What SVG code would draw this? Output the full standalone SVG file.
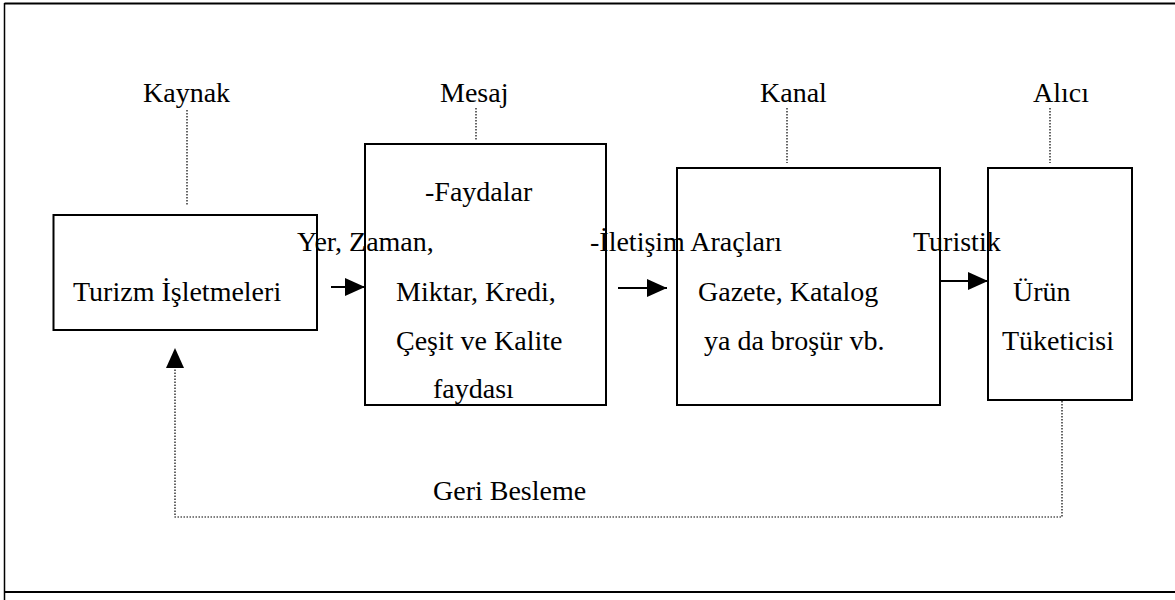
<svg xmlns="http://www.w3.org/2000/svg" width="1175" height="600" viewBox="0 0 1175 600">
<style>
text{font-family:"Liberation Serif","Times New Roman",serif;font-size:28px;fill:#000}
.box{fill:none;stroke:#000;stroke-width:2}
.dot{fill:none;stroke:#000;stroke-width:1.2;stroke-dasharray:1.5 1.5}
.arr{stroke:#000;stroke-width:2;fill:none}
.frame{stroke:#000;stroke-width:2;fill:none}
</style>
<defs>
<marker id="ah" viewBox="0 0 20 18" refX="20" refY="9" markerWidth="20" markerHeight="18" markerUnits="userSpaceOnUse" orient="auto">
<path d="M0,0 L20,9 L0,18 Z" fill="#000"/>
</marker>
</defs>
<rect width="1175" height="600" fill="#fff"/>
<g id="frame">
<line class="frame" x1="4.5" y1="3.5" x2="1175" y2="3.5"/>
<line class="frame" x1="4.5" y1="592" x2="1175" y2="592"/>
<line x1="4.5" y1="3" x2="4.5" y2="600" stroke="#000" stroke-width="1.5"/>
</g>
<g id="labels">
<text x="143" y="102">Kaynak</text>
<text x="440" y="102">Mesaj</text>
<text x="760" y="102">Kanal</text>
<text x="1033" y="102">Alıcı</text>
</g>
<g id="connectors">
<line class="dot" x1="187" y1="110" x2="187" y2="205"/>
<line class="dot" x1="476" y1="108" x2="476" y2="140"/>
<line class="dot" x1="787" y1="108" x2="787" y2="163"/>
<line class="dot" x1="1050" y1="108" x2="1050" y2="163"/>
<line class="arr" x1="331" y1="287" x2="365" y2="287" marker-end="url(#ah)"/>
<line class="arr" x1="618" y1="288" x2="667" y2="288" marker-end="url(#ah)"/>
<line class="arr" x1="941" y1="281" x2="988" y2="281" marker-end="url(#ah)"/>
<path class="dot" d="M1062,401 V517 H175 V366"/>
<line x1="175" y1="368" x2="175" y2="348" stroke="none" marker-end="url(#ah)"/>
<text x="433" y="500">Geri Besleme</text>
</g>
<g id="node-kaynak">
<rect class="box" x="53.5" y="215" width="263.5" height="115"/>
<text x="73" y="301">Turizm İşletmeleri</text>
</g>
<g id="node-mesaj">
<rect class="box" x="365" y="144" width="241" height="261"/>
<text x="425" y="201">-Faydalar</text>
<text x="297" y="251">Yer, Zaman,</text>
<text x="396" y="301">Miktar, Kredi,</text>
<text x="396" y="350">Çeşit ve Kalite</text>
<text x="433" y="398">faydası</text>
</g>
<g id="node-kanal">
<rect class="box" x="677" y="168" width="263" height="237"/>
<text x="590" y="251">-İletişim Araçları</text>
<text x="698" y="301">Gazete, Katalog</text>
<text x="704" y="350">ya da broşür vb.</text>
</g>
<g id="node-alici">
<rect class="box" x="988" y="168" width="144" height="232"/>
<text x="913" y="251">Turistik</text>
<text x="1013" y="301">Ürün</text>
<text x="1002" y="350">Tüketicisi</text>
</g>
</svg>
